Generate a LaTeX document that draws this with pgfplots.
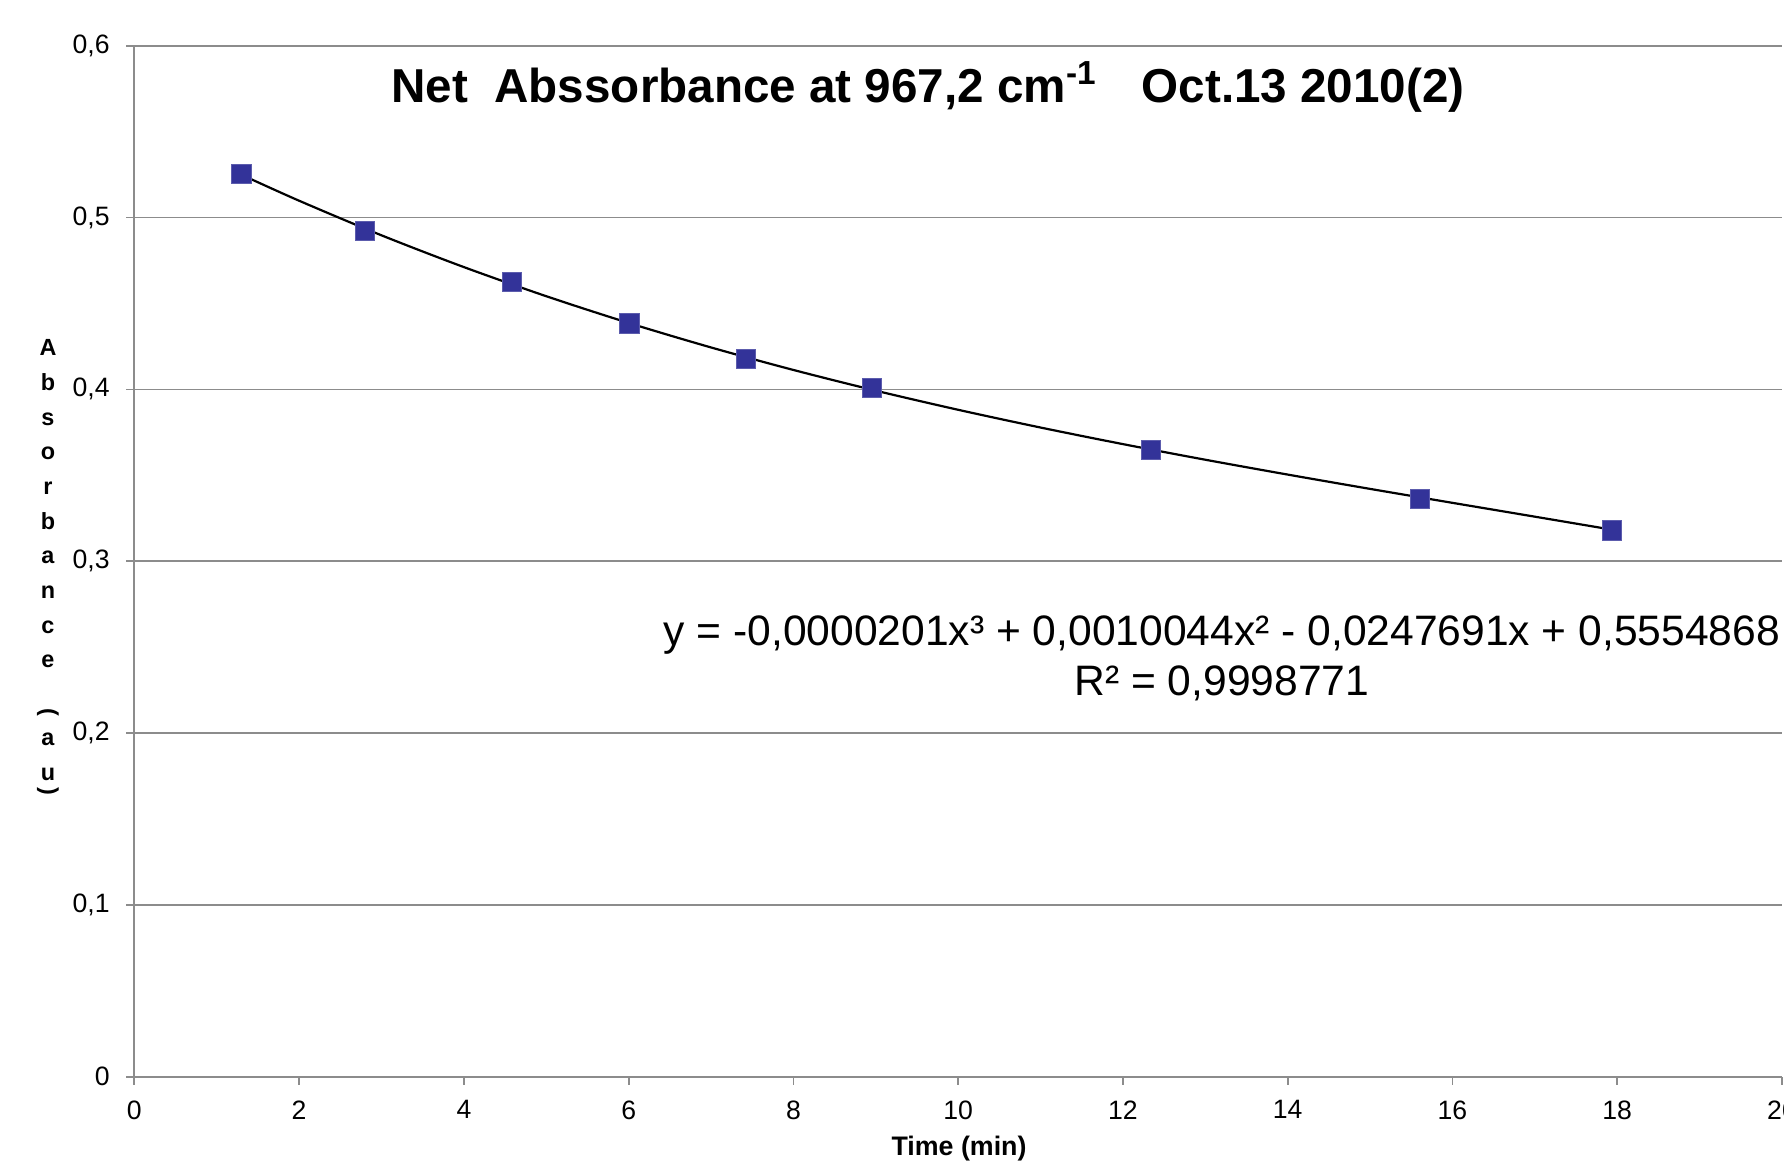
\documentclass[border=0pt]{standalone}
\usepackage{pgfplots}
\pgfplotsset{compat=1.18}
\usepackage{fontspec}
\setmainfont{Liberation Sans}
\definecolor{markblue}{HTML}{333399}
\definecolor{gridgray}{HTML}{8C8C8C}
\begin{document}
\begin{tikzpicture}
\begin{axis}[
  at={(0,0)}, anchor=south west,
  width=823.9pt, height=515.5pt, scale only axis,
  xmin=0, xmax=20, ymin=0, ymax=0.6,
  xtick={0,2,4,6,8,10,12,14,16,18,20},
  ytick={0,0.1,0.2,0.3,0.4,0.5,0.6},
  axis x line=bottom, axis y line=left,
  axis line style={-, draw=gridgray, line width=0.9pt},
  tick style={draw=gridgray, line width=0.9pt},
  tick align=outside, major tick length=4pt,
  ymajorgrids, grid style={draw=gridgray, line width=0.9pt},
  /pgf/number format/assume math mode=true,
  /pgf/number format/use comma,
  yticklabel style={/pgf/number format/fixed, /pgf/number format/precision=1,
    anchor=east, inner sep=0pt, xshift=-8.2pt},
  xticklabel style={anchor=north, inner sep=0pt, yshift=-7.7pt},
  ticklabel style={font=\fontsize{13.3}{16}\selectfont},
  xlabel={Time (min)},
  xlabel style={at={(axis description cs:0.5005,0)}, anchor=base, yshift=-39.2pt,
    font=\bfseries\fontsize{13.4}{16}\selectfont},
  title={Net\ \ Abssorbance at 967,2 cm\textsuperscript{-1}\hspace{0.95em}Oct.13 2010(2)},
  title style={at={(axis description cs:0.4817,0.933)}, anchor=base,
    font=\bfseries\fontsize{23.8}{28}\selectfont},
  clip=false,
]
\addplot[only marks, mark=square*, mark size=4.8pt,
  mark options={fill=markblue, draw=markblue!80!white, line width=0.5pt}]
  coordinates {
  (1.30,0.5252) (2.80,0.4921) (4.58,0.4623) (6.01,0.4384) (7.42,0.4179)
  (8.95,0.4007) (12.34,0.3649) (15.61,0.3364) (17.94,0.3179)
  };
\addplot[black, line width=1.1pt, smooth, no marks]
  coordinates {
  (1.3,0.52494) (2,0.50981) (3,0.48968) (4,0.47119) (5,0.45424)
  (6,0.43869) (7,0.42442) (8,0.41132) (9,0.39927) (10,0.38814)
  (11,0.37781) (12,0.36816) (13,0.35907) (14,0.35043) (15,0.34210)
  (16,0.33398) (17,0.32593) (17.94,0.31833)
  };
\node[anchor=base, font=\fontsize{21.3}{25}\selectfont] at (axis cs:13.2,0.25118)
  {y = -0,0000201x³ + 0,0010044x² - 0,0247691x + 0,5554868};
\node[anchor=base, font=\fontsize{21.3}{25}\selectfont] at (axis cs:13.2,0.22208)
  {R² = 0,9998771};
\end{axis}
\foreach \c/\y in {A/360.8, b/343.3, s/325.8, o/308.8, r/291.3, b/273.8, a/256.8, n/239.3, c/221.8, e/204.8, a/165.8, u/148.3}
  \node[anchor=base, inner sep=0pt, font=\bfseries\fontsize{11.7}{14}\selectfont] at (-43.2pt,\y pt) {\c};
\node[rotate=-90, inner sep=0pt, font=\bfseries\fontsize{11.7}{14}\selectfont] at (-43.2pt,182.3pt) {(};
\node[rotate=-90, inner sep=0pt, font=\bfseries\fontsize{11.7}{14}\selectfont] at (-43.2pt,142.8pt) {)};
\pgfresetboundingbox
\path[use as bounding box] (-67.2pt,-44.7pt) rectangle (824.9pt,538.4pt);
\end{tikzpicture}
\end{document}
